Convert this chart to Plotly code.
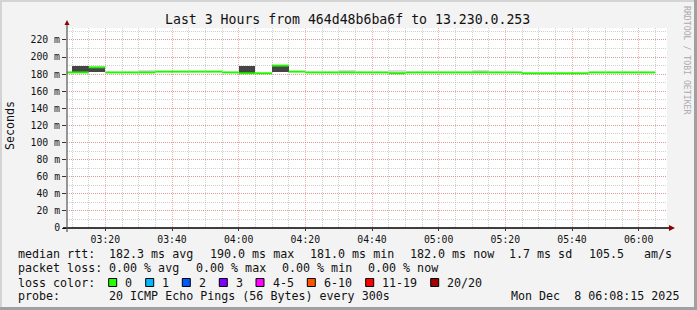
import plotly.graph_objects as go
import pandas as pd

# ---------------- data ----------------
day = "2025-12-08"
first_bin = "03:05"          # start of first 5-minute bin
bin_seconds = 300
median_ms = [182, 182, 188, 182, 182, 182, 183, 183, 183, 183, 182, 181,
             181, 190, 183, 182, 182, 182, 182, 182, 181, 182, 182, 182,
             182, 182, 182, 182, 181, 181, 181, 181, 182, 182, 182, 182]

dense_smoke_start = ["03:10", "03:15", "04:00", "04:10"]
dense_smoke_lo = [182.0, 182.0, 181.0, 182.0]
dense_smoke_hi = [189.5, 188.0, 190.0, 189.5]
light_smoke_start = ["03:30", "04:30", "04:45", "05:10"]
light_smoke_lo = [182.5, 183.5, 181.5, 182.5]
light_smoke_hi = [185.0, 185.0, 185.0, 185.0]

x_start, x_end = "03:08:30", "06:08:30"
y_max = 234
y_tick_vals = [0, 20, 40, 60, 80, 100, 120, 140, 160, 180, 200, 220]
y_tick_text = ["0", "20 m", "40 m", "60 m", "80 m", "100 m", "120 m",
               "140 m", "160 m", "180 m", "200 m", "220 m"]

title_text = "Last 3 Hours from 464d48b6ba6f to 13.230.0.253"
y_title = "Seconds"
watermark = "RRDTOOL / TOBI OETIKER"

rtt_label = "median rtt:"
rtt_items = ["182.3 ms avg", "190.0 ms max", "181.0 ms min", "182.0 ms now",
             "1.7 ms sd", "105.5", "am/s"]
loss_label = "packet loss:"
loss_items = ["0.00 % avg", "0.00 % max", "0.00 % min", "0.00 % now"]
color_label = "loss color:"
loss_color_names = ["0", "1", "2", "3", "4-5", "6-10", "11-19", "20/20"]
loss_color_values = ["#26ff00", "#00b8ff", "#0059ff", "#7e00ff",
                     "#ff00ff", "#ff5500", "#ff0000", "#a10000"]
probe_label = "probe:"
probe_text = "20 ICMP Echo Pings (56 Bytes) every 300s"
date_text = "Mon Dec  8 06:08:15 2025"

# ---------------- build ----------------
def ts(hm):
    return pd.Timestamp(f"{day} {hm}")

step = pd.Timedelta(seconds=bin_seconds)
bins = pd.date_range(ts(first_bin), periods=len(median_ms), freq=f"{bin_seconds}s")
line_x, line_y = [], []
for b, v in zip(bins, median_ms):
    line_x += [b, b + step, None]
    line_y += [v, v, None]

W, H = 697, 310
PL, PR, PT, PB = 67, 667, 28, 228


def fx(px):
    return (px - PL) / (PR - PL)


def fy(py):
    return (PB - py) / (PB - PT)


MONO = "DejaVu Sans Mono"
fig = go.Figure()

fig.add_trace(go.Bar(
    x=[ts(t) for t in dense_smoke_start],
    y=[h - l for h, l in zip(dense_smoke_hi, dense_smoke_lo)],
    base=dense_smoke_lo, width=bin_seconds * 1000, offset=0,
    marker=dict(color="#454545", line=dict(width=0)), hoverinfo="skip"))
fig.add_trace(go.Bar(
    x=[ts(t) for t in light_smoke_start],
    y=[h - l for h, l in zip(light_smoke_hi, light_smoke_lo)],
    base=light_smoke_lo, width=bin_seconds * 1000, offset=0,
    marker=dict(color="#d8d8d8", line=dict(width=0)), hoverinfo="skip"))
fig.add_trace(go.Scatter(
    x=line_x, y=line_y, mode="lines", line=dict(color="#22f500", width=2),
    connectgaps=False, hoverinfo="skip"))

major_grid = "rgba(225,110,110,0.55)"
minor_grid = "rgba(170,170,170,0.55)"

fig.update_xaxes(
    type="date", range=[ts(x_start), ts(x_end)],
    tick0=ts("03:20"), dtick=20 * 60 * 1000, tickformat="%H:%M",
    showgrid=True, gridcolor=major_grid, griddash="1px,1px", gridwidth=1,
    ticks="outside", ticklen=2, tickcolor="#333", showline=False, zeroline=False,
    tickfont=dict(family=MONO, size=9.8, color="#111"),
    minor=dict(dtick=5 * 60 * 1000, tick0=ts("03:20"), showgrid=True,
               gridcolor=minor_grid, griddash="1px,1px", ticks=""),
)
fig.update_yaxes(
    range=[0, y_max], tickvals=y_tick_vals, ticktext=y_tick_text,
    showgrid=True, gridcolor=major_grid, griddash="1px,1px", gridwidth=1,
    ticks="outside", ticklen=4, tickcolor="#333", showline=False, zeroline=False,
    tickfont=dict(family=MONO, size=9.8, color="#111"),
    minor=dict(dtick=10, showgrid=True, gridcolor=minor_grid, griddash="1px,1px", ticks=""),
)

shapes = [
    # frame
    dict(type="rect", xref="paper", yref="paper", x0=fx(0), x1=fx(W), y0=fy(0), y1=fy(2),
         fillcolor="#d4d4d4", line=dict(width=0), layer="below"),
    dict(type="rect", xref="paper", yref="paper", x0=fx(0), x1=fx(2), y0=fy(0), y1=fy(H),
         fillcolor="#d4d4d4", line=dict(width=0), layer="below"),
    dict(type="rect", xref="paper", yref="paper", x0=fx(0), x1=fx(W), y0=fy(H - 3), y1=fy(H),
         fillcolor="#a0a0a0", line=dict(width=0), layer="below"),
    dict(type="rect", xref="paper", yref="paper", x0=fx(W - 3), x1=fx(W), y0=fy(0), y1=fy(H),
         fillcolor="#a0a0a0", line=dict(width=0), layer="below"),
    # axes
    dict(type="line", xref="paper", yref="paper", x0=fx(63), x1=fx(670), y0=fy(228), y1=fy(228),
         line=dict(color="#000", width=1.3)),
    dict(type="line", xref="paper", yref="paper", x0=fx(67), x1=fx(67), y0=fy(232), y1=fy(24),
         line=dict(color="#555", width=1.2)),
    dict(type="path", xref="paper", yref="paper",
         path=f"M {fx(64.5)} {fy(25)} L {fx(69.5)} {fy(25)} L {fx(67)} {fy(20)} Z",
         fillcolor="#8b0000", line=dict(width=0)),
    dict(type="path", xref="paper", yref="paper",
         path=f"M {fx(669)} {fy(225)} L {fx(669)} {fy(231)} L {fx(675)} {fy(228)} Z",
         fillcolor="#8b0000", line=dict(width=0)),
]

ann = []


def text(px, py, s, size=11.66, anchor="left", color="#111", angle=0):
    ann.append(dict(xref="paper", yref="paper", x=fx(px), y=fy(py), text=s, showarrow=False,
                    xanchor=anchor, yanchor="middle", textangle=angle,
                    font=dict(family=MONO, size=size, color=color)))


text(347.7, 19, title_text, size=13.2, anchor="center")
text(10, 126, y_title, anchor="center", angle=-90)
text(687, 60, watermark, size=8.2, anchor="center", color="#ababab", angle=90)

row1, row2, row3, row4 = 254, 268, 282.5, 296
text(16, row1, rtt_label)
rtt_x = [107.3, 207.5, 307.7, 407.5, 507.3, 586.5, 642.3]
for px, s in zip(rtt_x, rtt_items):
    text(px, row1, s)
text(16, row2, loss_label)
for px, s in zip([107.3, 193.5, 279.7, 365.9], loss_items):
    text(px, row2, s)
text(16, row3, color_label)
box_x = [108.7, 145.7, 182.3, 219.3, 256.0, 307.3, 365.7, 430.7]
for bx, name, col in zip(box_x, loss_color_names, loss_color_values):
    shapes.append(dict(type="rect", xref="paper", yref="paper", x0=fx(bx), x1=fx(bx + 8),
                       y0=fy(row3 - 4), y1=fy(row3 + 4), fillcolor=col,
                       line=dict(color="#000", width=1)))
    text(bx + 14.6, row3, name)
text(16, row4, probe_label)
text(107.3, row4, probe_text)
text(681, row4, date_text, anchor="right")

fig.update_layout(
    width=W, height=H, margin=dict(l=PL, r=W - PR, t=PT, b=H - PB, autoexpand=False),
    paper_bgcolor="#f3f3f3", plot_bgcolor="#ffffff",
    showlegend=False, barmode="overlay", bargap=0,
    shapes=shapes, annotations=ann,
)

fig.write_html("out.html")
